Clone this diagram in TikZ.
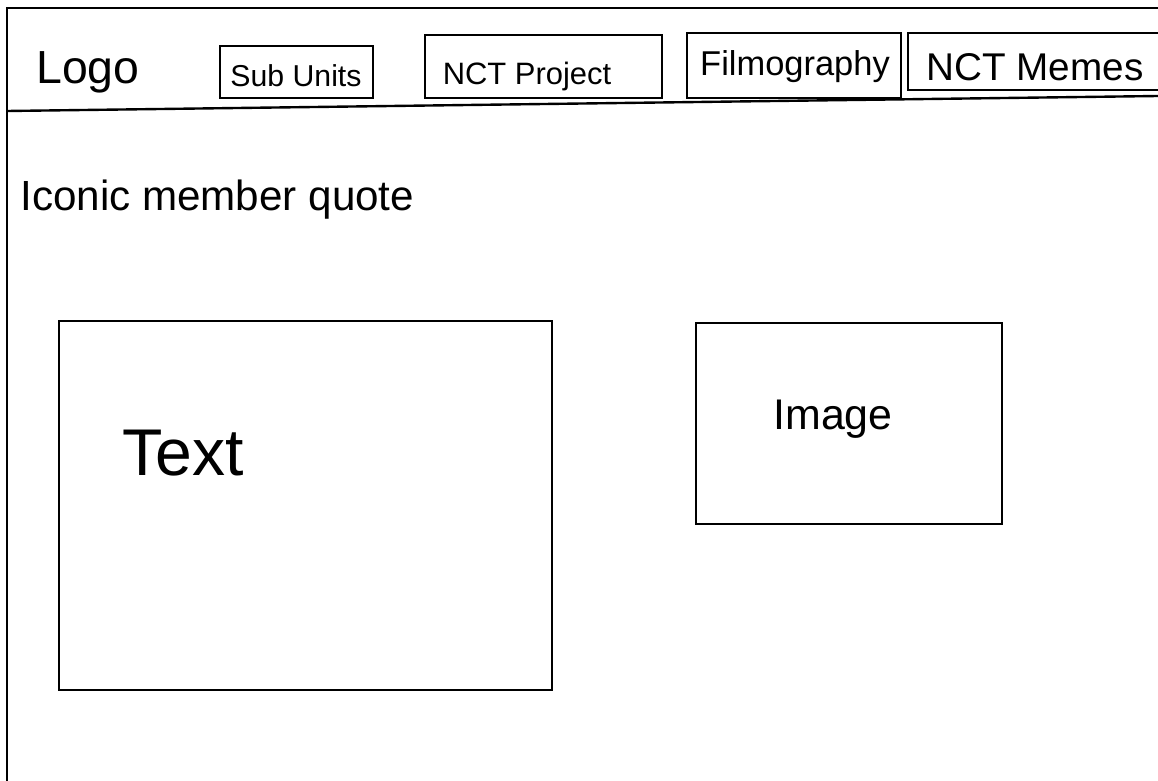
\documentclass[tikz,border=0pt]{standalone}
\usepackage{fontspec}
\setmainfont{Liberation Sans}
\usetikzlibrary{positioning}

\begin{document}
\begin{tikzpicture}[
    x=0.025cm, y=-0.025cm,
    frameline/.style={line width=1.7pt, black},
    navbox/.style={draw, line width=1.9pt, inner sep=0pt, outer sep=0pt},
    navlabel/.style={font=\fontsize{22}{26}\selectfont, inner sep=0pt, anchor=base},
    panel/.style={draw, line width=1.9pt, inner sep=0pt, outer sep=0pt},
    sketchtext/.style={font=\fontsize{30}{34}\selectfont, inner sep=0pt}
]
\useasboundingbox (0,0) rectangle (1158,781);

% Page frame and nav separator
\coordinate (frameTR) at (1158,8);
\coordinate (frameTL) at (7,8);
\coordinate (frameBL) at (7,781);
\coordinate (sepL) at (7,111);
\coordinate (sepR) at (1158,96);
\draw[frameline] (frameTR) -- (frameTL) -- (frameBL);
\draw[frameline] (sepL) -- (sepR);

% --- Nav bar ---
\node[sketchtext, anchor=base, font=\fontsize{33}{36}\selectfont] (logo) at (88,84) {Logo};

\node[navbox, minimum width=3.825cm, minimum height=1.3cm]   (subunits) at (296.5,72)  {};
\node[navbox, minimum width=5.925cm, minimum height=1.575cm] (project)  at (543.5,66.5){};
\node[navbox, minimum width=5.35cm,  minimum height=1.625cm] (filmo)    at (794,65.5)  {};
\node[navbox, minimum width=6.3cm,   minimum height=1.425cm] (memes)    at (1034,61.5) {};

\node[navlabel, font=\fontsize{21.5}{24}\selectfont] (subunitsLbl) at (296,87)  {Sub Units};
\node[navlabel, font=\fontsize{22}{26}\selectfont]   (projectLbl)  at (527,85)  {NCT Project};
\node[navlabel, font=\fontsize{24.5}{28}\selectfont] (filmoLbl)    at (795,76)  {Filmography};
\node[navlabel, font=\fontsize{27.5}{30}\selectfont] (memesLbl)    at (1035,81) {NCT Memes};

% --- Body ---
\node[sketchtext, anchor=base west] (quote) at (20,210) {Iconic member quote};

\node[panel, minimum width=12.325cm, minimum height=9.225cm] (textbox)  at (305.5,505.5) {};
\node[panel, minimum width=7.65cm,   minimum height=5.025cm] (imagebox) at (849,423.5)   {};

\node[sketchtext, anchor=base, font=\fontsize{47}{50}\selectfont] (textLbl)  at (183,475) {Text};
\node[sketchtext, anchor=base, font=\fontsize{30.5}{34}\selectfont] (imageLbl) at (833,429) {Image};

\end{tikzpicture}
\end{document}
